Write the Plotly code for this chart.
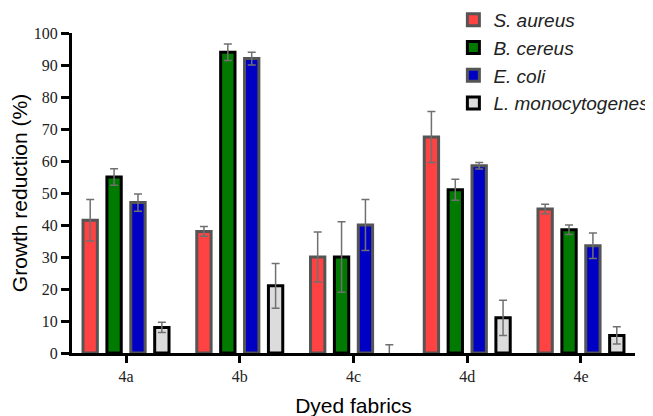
import plotly.graph_objects as go

categories = ["4a", "4b", "4c", "4d", "4e"]
series_names = ["S. aureus", "B. cereus", "E. coli", "L. monocytogenes"]
s_aureus = [41.5, 38.0, 30.0, 67.5, 45.0]
s_aureus_err = [6.5, 1.5, 7.8, 8.0, 1.5]
b_cereus = [55.0, 94.0, 30.0, 51.0, 38.5]
b_cereus_err = [2.6, 2.6, 11.0, 3.3, 1.5]
e_coli = [47.0, 92.0, 40.0, 58.5, 33.5]
e_coli_err = [2.7, 2.0, 8.0, 1.0, 4.0]
l_mono = [8.0, 21.0, 0.0, 11.0, 5.5]
l_mono_err = [1.6, 7.0, 2.6, 5.5, 2.7]

values = [s_aureus, b_cereus, e_coli, l_mono]
errors = [s_aureus_err, b_cereus_err, e_coli_err, l_mono_err]
fills = ["#FF4242", "#007A00", "#0000C4", "#DCDCDC"]
outlines = ["#555555", "#000000", "#555555", "#000000"]

fig = go.Figure()
for name, v, e, fc, lc in zip(series_names, values, errors, fills, outlines):
    fig.add_trace(go.Bar(
        x=categories, y=v, name=name,
        marker=dict(color=fc, line=dict(color=lc, width=[3 if val > 0 else 0 for val in v])),
        error_y=dict(type="data", array=e, visible=True, color="#707070",
                     thickness=1.5, width=4),
    ))

# page body adds an 8px offset; margins compensate for it
fig.update_layout(
    width=653, height=416,
    margin=dict(l=64, r=26, t=25, b=71, autoexpand=False),
    paper_bgcolor="white", plot_bgcolor="white",
    barmode="group", bargap=0.16, bargroupgap=0.40,
    font=dict(family="Liberation Sans", color="black"),
    legend=dict(x=0.6774, y=1.100, xref="paper", yref="paper",
                xanchor="left", yanchor="top",
                font=dict(family="Liberation Sans", size=19, style="italic", color="#222"),
                bgcolor="rgba(0,0,0,0)", itemwidth=30, tracegroupgap=0),
    xaxis=dict(
        range=[-0.475, 4.475], showline=True, linecolor="black", linewidth=3,
        ticks="outside", ticklen=7, tickwidth=3, tickcolor="black", automargin=False,
        tickfont=dict(family="Liberation Serif", size=16, color="#222"),
        title=dict(text="Dyed fabrics", font=dict(family="Liberation Sans", size=21), standoff=15),
        showgrid=False, zeroline=False,
    ),
    yaxis=dict(
        range=[0, 100], dtick=10, showline=True, linecolor="black", linewidth=3,
        ticks="outside", ticklen=8, tickwidth=2.5, tickcolor="black", automargin=False,
        tickfont=dict(family="Liberation Serif", size=16, color="#222"),
        title=dict(text="Growth reduction (%)", font=dict(family="Liberation Sans", size=21), standoff=3),
        showgrid=False, zeroline=False,
    ),
)

fig.write_html("out.html")
